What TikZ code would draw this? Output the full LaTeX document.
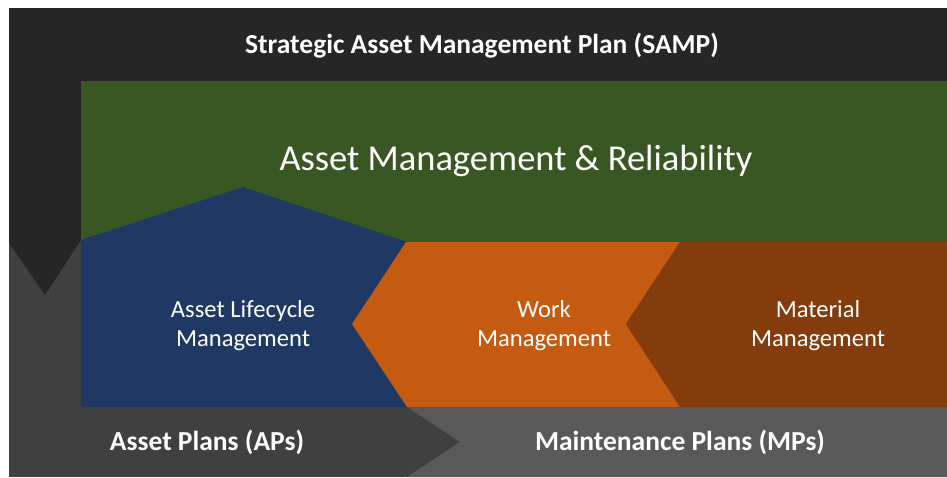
\documentclass[tikz,border=0pt]{standalone}
\usepackage{fontspec}
\setmainfont{Carlito}
\definecolor{cTop}{HTML}{262626}
\definecolor{cMid}{HTML}{404040}
\definecolor{cLight}{HTML}{595959}
\definecolor{cGreen}{HTML}{385723}
\definecolor{cBlue}{HTML}{203864}
\definecolor{cOrange}{HTML}{C55A11}
\definecolor{cBrown}{HTML}{843C0C}
\tikzset{
  boldlab/.style={text=white, font=\fontsize{27.5}{32}\selectfont\bfseries, inner sep=0pt},
  boxlab/.style={text=white, font=\fontsize{24.6}{29.5}\selectfont, align=center, inner sep=0pt},
  titlelab/.style={text=white, font=\fontsize{36.5}{40}\selectfont, inner sep=0pt}
}
\begin{document}
\begin{tikzpicture}[x=1pt,y=-1pt]
\useasboundingbox (0,0) rectangle (947,477);
\fill[white] (0,0) rectangle (947,477);
% background grey
\fill[cMid] (9,8) rectangle (947,477);
% SAMP L-shape with downward chevron
\fill[cTop] (9,8) -- (947,8) -- (947,81) -- (81,81) -- (81,240) -- (45,295) -- (9,243) -- cycle;
% green
\fill[cGreen] (81,81) rectangle (947,242);
% blue pentagon
\fill[cBlue] (81,240) -- (243,187) -- (407,242) -- (407,407) -- (81,407) -- cycle;
% orange chevron
\fill[cOrange] (406,242) -- (680,242) -- (626,324) -- (680,407) -- (407,407) -- (352,324) -- cycle;
% brown chevron
\fill[cBrown] (680,242) -- (947,242) -- (947,407) -- (680,407) -- (626,324) -- cycle;
% maintenance plans strip
\fill[cLight] (407,407) -- (947,407) -- (947,477) -- (407,477) -- (460,442) -- cycle;
% texts
\node[boldlab] (samp) at (482,46) {Strategic Asset Management Plan (SAMP)};
\node[titlelab] (amr) at (516,161) {Asset Management \& Reliability};
\node[boxlab] (alm) at (243,325.5) {Asset Lifecycle\\Management};
\node[boxlab] (wm) at (544,325.5) {Work\\Management};
\node[boxlab] (mm) at (818,325.5) {Material\\Management};
\node[boldlab] (ap) at (207,442) {Asset Plans (APs)};
\node[boldlab] (mp) at (680,442) {Maintenance Plans (MPs)};
\end{tikzpicture}
\end{document}
